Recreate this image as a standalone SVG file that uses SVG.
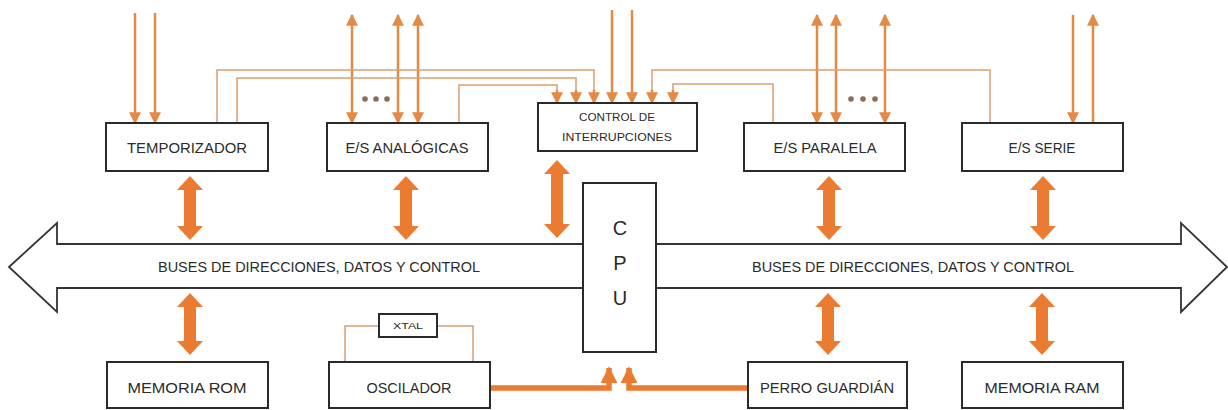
<svg xmlns="http://www.w3.org/2000/svg" width="1228" height="410" viewBox="0 0 1228 410">
<style>
.box{fill:#fff;stroke:#2a2a2a;stroke-width:2}
.t{font-family:"Liberation Sans",Arial,sans-serif;fill:#2b2b2b;text-anchor:middle;dominant-baseline:central}
.big{fill:#EB7B30}
.sig{stroke:#E58A45;stroke-width:2.5;fill:none}
.wire{stroke:#D9A06E;stroke-width:1.5;fill:none}
.thick{stroke:#EB7B30;stroke-width:5.5;fill:none}
.dot{fill:#8B6B55}
</style>
<defs>
<marker id="ah" viewBox="0 0 10 10" refX="9" refY="5" markerWidth="12" markerHeight="12" markerUnits="userSpaceOnUse" orient="auto-start-reverse">
<path d="M0,0 L10,5 L0,10 z" fill="#E58A45"/>
</marker>
<marker id="ahb" viewBox="0 0 10 10" refX="9" refY="5" markerWidth="17" markerHeight="18" markerUnits="userSpaceOnUse" orient="auto">
<path d="M0,0 L10,5 L0,10 z" fill="#EB7B30"/>
</marker>
</defs>
<rect width="1228" height="410" fill="#fff"/>

<g id="bus">
<polygon points="9,267 57,223 57,244 1181,244 1181,223 1227,267 1181,312 1181,288 57,288 57,312" fill="#fff" stroke="#333" stroke-width="1.8" stroke-linejoin="miter"/>
<text class="t" x="319" y="267" font-size="14" textLength="322" lengthAdjust="spacingAndGlyphs">BUSES DE DIRECCIONES, DATOS Y CONTROL</text>
<text class="t" x="913" y="267" font-size="14" textLength="322" lengthAdjust="spacingAndGlyphs">BUSES DE DIRECCIONES, DATOS Y CONTROL</text>
</g>

<g id="connectors">
<polygon class="big" points="190,176 203,190 196,190 196,226 203,226 190,240 177,226 184,226 184,190 177,190"/>
<polygon class="big" points="406,176 419,190 412,190 412,226 419,226 406,240 393,226 400,226 400,190 393,190"/>
<polygon class="big" points="557,160 570,174 563,174 563,224 570,224 557,238 544,224 551,224 551,174 544,174"/>
<polygon class="big" points="829,176 842,190 835,190 835,226 842,226 829,240 816,226 823,226 823,190 816,190"/>
<polygon class="big" points="1043,176 1056,190 1049,190 1049,226 1056,226 1043,240 1030,226 1037,226 1037,190 1030,190"/>
<polygon class="big" points="190,293 203,307 196,307 196,341 203,341 190,355 177,341 184,341 184,307 177,307"/>
<polygon class="big" points="828,293 841,307 834,307 834,341 841,341 828,355 815,341 822,341 822,307 815,307"/>
<polygon class="big" points="1042,293 1055,307 1048,307 1048,341 1055,341 1042,355 1029,341 1036,341 1036,307 1029,307"/>
<polyline class="thick" points="490,388 609,388 609,368" marker-end="url(#ahb)"/>
<polyline class="thick" points="748,388 629,388 629,368" marker-end="url(#ahb)"/>
<line class="sig" x1="135" y1="13" x2="135" y2="123" marker-end="url(#ah)"/>
<line class="sig" x1="155" y1="13" x2="155" y2="123" marker-end="url(#ah)"/>
<line class="sig" x1="352" y1="15" x2="352" y2="123" marker-start="url(#ah)" marker-end="url(#ah)"/>
<line class="sig" x1="398" y1="15" x2="398" y2="123" marker-start="url(#ah)" marker-end="url(#ah)"/>
<line class="sig" x1="418" y1="15" x2="418" y2="123" marker-start="url(#ah)" marker-end="url(#ah)"/>
<circle class="dot" cx="365" cy="99" r="2.8"/>
<circle class="dot" cx="376" cy="99" r="2.8"/>
<circle class="dot" cx="387" cy="99" r="2.8"/>
<line class="sig" x1="817" y1="15" x2="817" y2="123" marker-start="url(#ah)" marker-end="url(#ah)"/>
<line class="sig" x1="836" y1="15" x2="836" y2="123" marker-start="url(#ah)" marker-end="url(#ah)"/>
<line class="sig" x1="885" y1="15" x2="885" y2="123" marker-start="url(#ah)" marker-end="url(#ah)"/>
<circle class="dot" cx="851" cy="99" r="2.8"/>
<circle class="dot" cx="863" cy="99" r="2.8"/>
<circle class="dot" cx="875" cy="99" r="2.8"/>
<line class="sig" x1="1073" y1="15" x2="1073" y2="123" marker-end="url(#ah)"/>
<line class="sig" x1="1093" y1="123" x2="1093" y2="15" marker-end="url(#ah)"/>
<line class="sig" x1="612" y1="10" x2="612" y2="103" marker-end="url(#ah)"/>
<line class="sig" x1="632" y1="10" x2="632" y2="103" marker-end="url(#ah)"/>
<polyline class="wire" points="217,123 217,70 594,70 594,92"/>
<polyline class="wire" points="237,123 237,78 576,78 576,92"/>
<polyline class="wire" points="459,123 459,85 557,85 557,92"/>
<polyline class="wire" points="990,123 990,70 652,70 652,92"/>
<polyline class="wire" points="773,123 773,84 673,84 673,92"/>
<line class="sig" x1="594" y1="90" x2="594" y2="103" marker-end="url(#ah)"/>
<line class="sig" x1="576" y1="90" x2="576" y2="103" marker-end="url(#ah)"/>
<line class="sig" x1="557" y1="90" x2="557" y2="103" marker-end="url(#ah)"/>
<line class="sig" x1="652" y1="90" x2="652" y2="103" marker-end="url(#ah)"/>
<line class="sig" x1="673" y1="90" x2="673" y2="103" marker-end="url(#ah)"/>
<polyline class="wire" points="379,326 345,326 345,362"/>
<polyline class="wire" points="437,326 473,326 473,362"/>
</g>

<g id="temporizador">
<rect class="box" x="106" y="123" width="162" height="48"/>
<text class="t" x="187" y="147" font-size="15" textLength="120" lengthAdjust="spacingAndGlyphs">TEMPORIZADOR</text>
</g>
<g id="es-analogicas">
<rect class="box" x="327" y="123" width="161" height="48"/>
<text class="t" x="407" y="147" font-size="15" textLength="123" lengthAdjust="spacingAndGlyphs">E/S ANALÓGICAS</text>
</g>
<g id="control-interrupciones">
<rect class="box" x="538" y="103" width="159" height="48"/>
<text class="t" x="617" y="117" font-size="11.5" textLength="76" lengthAdjust="spacingAndGlyphs">CONTROL DE</text>
<text class="t" x="617" y="137" font-size="11.5" textLength="110" lengthAdjust="spacingAndGlyphs">INTERRUPCIONES</text>
</g>
<g id="es-paralela">
<rect class="box" x="744" y="123" width="161" height="48"/>
<text class="t" x="825" y="147" font-size="15" textLength="103" lengthAdjust="spacingAndGlyphs">E/S PARALELA</text>
</g>
<g id="es-serie">
<rect class="box" x="962" y="123" width="161" height="48"/>
<text class="t" x="1042" y="147" font-size="15" textLength="67" lengthAdjust="spacingAndGlyphs">E/S SERIE</text>
</g>
<g id="cpu">
<rect class="box" x="583" y="183" width="73" height="169"/>
<text class="t" x="620" y="228" font-size="20">C</text>
<text class="t" x="620" y="263" font-size="20">P</text>
<text class="t" x="620" y="298" font-size="20">U</text>
</g>
<g id="memoria-rom">
<rect class="box" x="107" y="362" width="161" height="46"/>
<text class="t" x="187" y="387" font-size="15" textLength="119" lengthAdjust="spacingAndGlyphs">MEMORIA ROM</text>
</g>
<g id="oscilador">
<rect class="box" x="329" y="362" width="161" height="46"/>
<text class="t" x="409" y="387" font-size="15" textLength="85" lengthAdjust="spacingAndGlyphs">OSCILADOR</text>
</g>
<g id="xtal">
<rect class="box" x="379" y="314" width="58" height="23" stroke-width="1.8"/>
<text class="t" x="408" y="326" font-size="9" textLength="30" lengthAdjust="spacingAndGlyphs">XTAL</text>
</g>
<g id="perro-guardian">
<rect class="box" x="748" y="362" width="159" height="46"/>
<text class="t" x="827" y="387" font-size="15" textLength="134" lengthAdjust="spacingAndGlyphs">PERRO GUARDIÁN</text>
</g>
<g id="memoria-ram">
<rect class="box" x="962" y="362" width="161" height="46"/>
<text class="t" x="1042" y="387" font-size="15" textLength="115" lengthAdjust="spacingAndGlyphs">MEMORIA RAM</text>
</g>
</svg>
